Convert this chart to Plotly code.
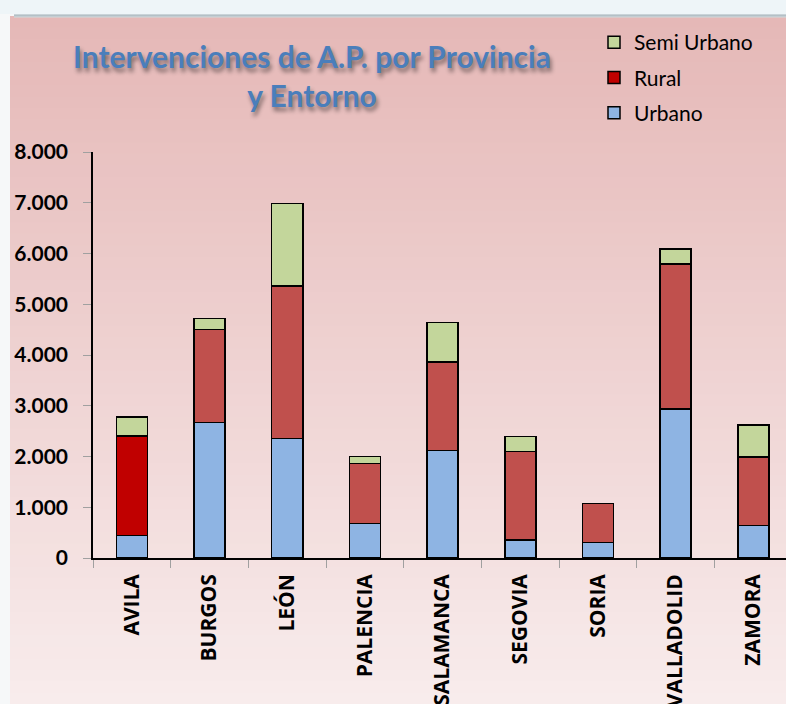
import plotly.graph_objects as go

provincias = ["AVILA", "BURGOS", "LEÓN", "PALENCIA", "SALAMANCA", "SEGOVIA", "SORIA", "VALLADOLID", "ZAMORA"]
urbano = [440, 2670, 2350, 680, 2120, 355, 310, 2940, 640]
rural = [1960, 1830, 3010, 1185, 1740, 1745, 766, 2850, 1350]
semi_urbano = [380, 220, 1630, 135, 780, 290, 0, 300, 630]
y_ticks = [0, 1000, 2000, 3000, 4000, 5000, 6000, 7000, 8000]
y_tick_labels = ["0", "1.000", "2.000", "3.000", "4.000", "5.000", "6.000", "7.000", "8.000"]

W, H = 786, 704
ML, MT, MB = 93, 152, 146
PW, PH = W - ML, H - MT - MB

def px_x(px):
    return (px - ML) / PW

def px_y(py):
    return (H - MB - py) / PH

rural_colors = ["#C00000"] + ["#C0504D"] * (len(provincias) - 1)
line = dict(color="black", width=1.5)

fig = go.Figure()
fig.add_trace(go.Bar(x=provincias, y=urbano, name="Urbano", legendgroup="u", legendrank=3,
                     marker=dict(color="#8EB4E3", line=line)))
fig.add_trace(go.Bar(x=provincias, y=rural, name="Rural", legendgroup="r", legendrank=2,
                     marker=dict(color=rural_colors, line=line)))
fig.add_trace(go.Bar(x=provincias, y=semi_urbano, name="Semi Urbano", legendgroup="s", legendrank=1,
                     marker=dict(color="#C3D69B", line=line)))

# background gradient bands
shapes = []
top_px, bot_px = 16, H
n = 60
c0 = (229, 184, 183)
c1 = (248, 236, 236)
for i in range(n):
    t = i / (n - 1)
    col = tuple(int(round(c0[k] + (c1[k] - c0[k]) * t)) for k in range(3))
    y0p = top_px + (bot_px - top_px) * i / n
    y1p = top_px + (bot_px - top_px) * (i + 1) / n + 1
    shapes.append(dict(type="rect", xref="paper", yref="paper", layer="below",
                       x0=px_x(10), x1=px_x(W + 2), y0=px_y(y1p), y1=px_y(y0p),
                       line=dict(width=0), fillcolor="rgb(%d,%d,%d)" % col))
# top light band and shadow
shapes.append(dict(type="rect", xref="paper", yref="paper", layer="below",
                   x0=px_x(-2), x1=px_x(W + 2), y0=px_y(14), y1=px_y(-2),
                   line=dict(width=0), fillcolor="#EEF5F8"))
for i, c in enumerate(["#C9D3D8", "#B4C0C6", "#C4CED3", "#D9CACA"]):
    shapes.append(dict(type="rect", xref="paper", yref="paper", layer="below",
                       x0=px_x(14), x1=px_x(W + 2), y0=px_y(15 + i), y1=px_y(14 + i),
                       line=dict(width=0), fillcolor=c))
# left light strip
shapes.append(dict(type="rect", xref="paper", yref="paper", layer="below",
                   x0=px_x(-2), x1=px_x(10), y0=px_y(H + 2), y1=px_y(14),
                   line=dict(width=0), fillcolor="#F6F8F9"))

fig.update_layout(
    width=W, height=H,
    margin=dict(l=ML, r=0, t=MT, b=MB, pad=0, autoexpand=False),
    paper_bgcolor="#F6F8F9",
    plot_bgcolor="rgba(0,0,0,0)",
    barmode="stack",
    bargap=0.6,
    shapes=shapes,
    title=dict(
        text="Intervenciones de A.P. por Provincia<br>y Entorno",
        xref="container", yref="container",
        x=312 / W, xanchor="center",
        y=1 - 68 / H, yanchor="middle",
        font=dict(family="Lato", size=30, color="#4A7EBB", weight="bold",
                  shadow="2px 4px 4px rgba(0,0,0,0.45)"),
    ),
    legend=dict(
        x=px_x(594), y=px_y(22), xanchor="left", yanchor="top",
        xref="paper", yref="paper",
        traceorder="grouped", tracegroupgap=5,
        bgcolor="rgba(0,0,0,0)",
        font=dict(family="Lato", size=21, color="black"),
        itemwidth=30,
    ),
    showlegend=True,
)
fig.update_xaxes(
    type="category",
    range=[-0.5, 8.42],
    automargin=False,
    showline=True, linecolor="black", linewidth=1.5,
    ticks="outside", tickson="boundaries", ticklen=8, tickcolor="#A0A0A0",
    tickangle=-90,
    tickfont=dict(family="Open Sans", size=21, color="black", weight="bold"),
    ticklabelstandoff=6,
    showgrid=False, zeroline=False,
)
fig.update_yaxes(
    range=[0, 8000],
    automargin=False,
    tickvals=y_ticks, ticktext=y_tick_labels,
    showline=True, linecolor="black", linewidth=1.5,
    ticks="outside", ticklen=8, tickcolor="#A0A0A0",
    tickfont=dict(family="Lato", size=21, color="black", weight="bold"),
    ticklabelstandoff=11,
    showgrid=False, zeroline=False,
)

fig.write_html("out.html",
               config={"displayModeBar": False},
               post_script="document.body.style.margin='0';document.body.style.overflow='hidden';")
